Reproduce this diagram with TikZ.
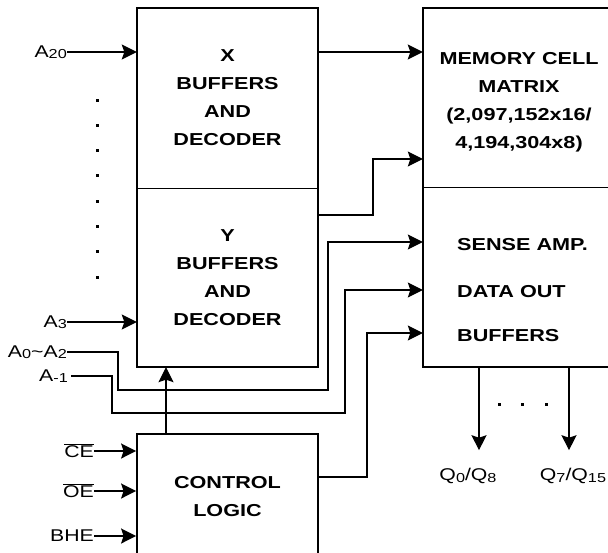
\documentclass[tikz,border=0pt]{standalone}
\usepackage{fontspec}
\setmainfont{Liberation Sans}[FakeStretch=1.25]
\usepackage{tikz}
\usetikzlibrary{arrows.meta, positioning}
\newcommand{\lo}[1]{\raisebox{-1.5pt}{\fontsize{13pt}{13pt}\selectfont #1}}

\begin{document}
\begin{tikzpicture}[
  x=1pt, y=-1pt,
  every node/.style={font=\fontsize{17pt}{28pt}\selectfont},
  blk/.style={minimum width=181pt, inner sep=0pt, align=center, font=\fontsize{17.3pt}{28pt}\selectfont\bfseries},
  outline/.style={line width=1.8pt},
  split/.style={line width=0.9pt},
  arrow/.style={-{Stealth[length=15pt, width=15pt, inset=2.5pt]}, line width=1.8pt},
  wire/.style={-{Stealth[length=15pt, width=15pt, inset=2.5pt]}, line width=1.1pt},
  pin/.style={anchor=east, inner sep=0pt}
]
  \useasboundingbox (0,0) rectangle (608,552);

  % Blocks
  \node[blk, minimum height=180pt] (xdec) at (227.5,98) {X\\BUFFERS\\AND\\DECODER};
  \node[blk, minimum height=179pt] (ydec) at (227.5,277.5) {Y\\BUFFERS\\AND\\DECODER};
  \node[blk, minimum width=190pt, minimum height=180pt] (mem) at (519,102.5) {MEMORY CELL\\MATRIX\\(2,097,152x16/\\4,194,304x8)};
  \node[blk, minimum width=190pt, minimum height=179pt] (sense) at (518,277.5) {};
  \node[blk, anchor=west, align=left, minimum width=0pt] (sensetxt) at (457,290) {SENSE AMP.\\[19pt]DATA OUT\\[16pt]BUFFERS};
  \node[blk, draw, outline, minimum height=126pt] (ctrl) at (227.5,497) {CONTROL\\LOGIC};

  \draw[outline] (xdec.north west) rectangle (ydec.south east);
  \draw[split] (xdec.south west) -- (xdec.south east);
  \draw[outline] (sense.west |- xdec.north) rectangle (sense.south east);
  \draw[split] (sense.north west) -- (sense.north east);

  % Address inputs
  \node[pin] (a20) at (67,52) {A\lo{20}};
  \node[pin] (a3) at (67,322) {A\lo{3}};
  \node[pin] (a02) at (67,352) {A\lo{0}\textasciitilde A\lo{2}};
  \node[pin] (a1) at (68,376) {A\lo{-1}};
  \foreach \i in {0,...,7}
    \fill (95.5,{98.5+\i*25.3}) rectangle ++(3,3);

  \draw[arrow] (a20.east) -- (a20 -| xdec.west);
  \draw[arrow] (a3.east) -- (a3 -| ydec.west);
  \draw[wire] (a02.east) -| (118,390) -| (328,242) -- (sense.west |- 0,242);
  \draw[wire] ([xshift=3pt]a1.east) -| (112,413) -| (345,290) -- (sense.west |- 0,290);

  % Decoders to matrix
  \draw[arrow] (a20 -| xdec.east) -- (a20 -| sense.west);
  \draw[wire] (ydec.east |- 0,215) -| (373,159) -- (sense.west |- 0,159);

  % Control inputs
  \node[pin] (ce) at (94,451) {$\overline{\mbox{CE}}$};
  \node[pin] (oe) at (94,491) {$\overline{\mbox{OE}}$};
  \node[pin] (bhe) at (94,536) {BHE};
  \draw[arrow] (ce.east) -- (ce -| ctrl.west);
  \draw[arrow] (oe.east) -- (oe -| ctrl.west);
  \draw[arrow] (bhe.east) -- (bhe -| ctrl.west);

  \draw[wire] (ctrl.north -| 166,0) -- (ydec.south -| 166,0);
  \draw[wire] (ctrl.east |- 0,477) -| (367,333) -- (sense.west |- 0,333);

  % Outputs
  \draw[wire] (sense.south -| 479,0) -- ++(0,83);
  \draw[wire] (sense.south -| 569,0) -- ++(0,83);
  \foreach \x in {499,522,546}
    \fill (\x-1.5,402.5) rectangle ++(3,3);
  \node (q0) at (468,476) {Q\lo{0}/Q\lo{8}};
  \node (q7) at (573,476) {Q\lo{7}/Q\lo{15}};
\end{tikzpicture}
\end{document}
